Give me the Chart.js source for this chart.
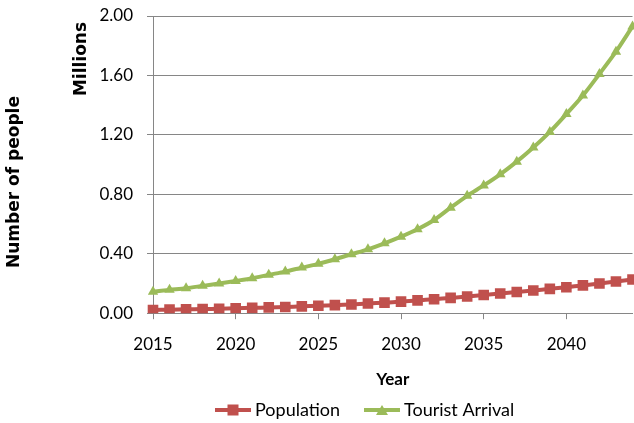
<!DOCTYPE html>
<html>
<head>
<meta charset="utf-8">
<script src="https://cdn.jsdelivr.net/npm/chart.js@4.4.1/dist/chart.umd.min.js"></script>
<style>
  html, body { margin: 0; padding: 0; background: #fff; overflow: hidden; }
  #wrap { width: 640px; height: 423px; }
</style>
</head>
<body>
<div id="wrap"><canvas id="chart"></canvas></div>
<script>
var years = [2015, 2016, 2017, 2018, 2019, 2020, 2021, 2022, 2023, 2024,
    2025, 2026, 2027, 2028, 2029, 2030, 2031, 2032, 2033, 2034,
    2035, 2036, 2037, 2038, 2039, 2040, 2041, 2042, 2043, 2044];

var population = [0.022, 0.024, 0.026, 0.028, 0.030, 0.033, 0.036, 0.039, 0.042, 0.046,
    0.050, 0.054, 0.059, 0.065, 0.071, 0.078, 0.086, 0.094, 0.103, 0.112,
    0.122, 0.133, 0.143, 0.153, 0.164, 0.175, 0.187, 0.200, 0.213, 0.227];

var touristArrival = [0.145, 0.157, 0.168, 0.184, 0.200, 0.217, 0.235, 0.258, 0.280, 0.307,
    0.332, 0.363, 0.397, 0.430, 0.470, 0.515, 0.565, 0.627, 0.710, 0.790,
    0.860, 0.935, 1.020, 1.115, 1.220, 1.340, 1.465, 1.610, 1.760, 1.930];

var seriesNames = ['Population', 'Tourist Arrival'];

var colors = {
    red: '#C0504D',
    green: '#9BBB59',
    grid: '#868686',
    text: '#000000'
};

var tickFont = { family: 'Lato, "Open Sans", sans-serif', size: 17 };
var sideTitleFont = 'bold 17px "DejaVu Sans", Verdana, sans-serif';

// rotated y titles: "Number of people" and the "Millions" unit
var sideTitles = {
    id: 'sideTitles',
    afterDraw: function (chart) {
        var ctx = chart.ctx;
        var titles = [
            { x: 15, y: 182, text: 'Number of people' },
            { x: 82, y: 59, text: 'Millions' }
        ];
        ctx.save();
        ctx.font = sideTitleFont;
        ctx.fillStyle = colors.text;
        ctx.textAlign = 'center';
        ctx.textBaseline = 'middle';
        titles.forEach(function (t) {
            ctx.save();
            ctx.translate(t.x, t.y);
            ctx.rotate(-Math.PI / 2);
            ctx.fillText(t.text, 0, 0);
            ctx.restore();
        });
        ctx.restore();
    }
};

// Excel style legend: line with marker, then the name
var lineLegend = {
    id: 'lineLegend',
    afterDraw: function (chart) {
        var ctx = chart.ctx;
        var y = 410;
        var items = [
            { x: 215, color: colors.red, shape: 'rect', text: seriesNames[0] },
            { x: 364, color: colors.green, shape: 'triangle', text: seriesNames[1] }
        ];
        ctx.save();
        items.forEach(function (it) {
            ctx.strokeStyle = it.color;
            ctx.fillStyle = it.color;
            ctx.lineWidth = 4;
            ctx.beginPath();
            ctx.moveTo(it.x, y);
            ctx.lineTo(it.x + 36, y);
            ctx.stroke();
            var cx = it.x + 18;
            if (it.shape === 'rect') {
                ctx.fillRect(cx - 5.5, y - 5.5, 11, 11);
            } else {
                ctx.beginPath();
                ctx.moveTo(cx, y - 5);
                ctx.lineTo(cx + 6, y + 5);
                ctx.lineTo(cx - 6, y + 5);
                ctx.closePath();
                ctx.fill();
            }
            ctx.fillStyle = colors.text;
            ctx.font = '18px Lato, "Open Sans", sans-serif';
            ctx.textAlign = 'left';
            ctx.textBaseline = 'middle';
            ctx.fillText(it.text, it.x + 40, y);
        });
        ctx.restore();
    }
};

var config = {
    type: 'line',
    data: {
        labels: years,
        datasets: [{
            label: seriesNames[0],
            data: population,
            borderColor: colors.red,
            backgroundColor: colors.red,
            borderWidth: 4,
            pointStyle: 'rect',
            pointRadius: 7.5,
            pointBorderWidth: 0,
            tension: 0.3
        }, {
            label: seriesNames[1],
            data: touristArrival,
            borderColor: colors.green,
            backgroundColor: colors.green,
            borderWidth: 4,
            pointStyle: 'triangle',
            pointRadius: 6,
            pointBorderWidth: 0,
            tension: 0.3
        }]
    },
    options: {
        responsive: true,
        maintainAspectRatio: false,
        animation: false,
        layout: {
            padding: { top: 0, right: 4, bottom: 33, left: 0 }
        },
        plugins: {
            legend: { display: false },
            tooltip: { enabled: false }
        },
        scales: {
            x: {
                type: 'category',
                offset: false,
                border: { color: colors.grid, width: 1 },
                grid: {
                    drawOnChartArea: false,
                    drawTicks: true,
                    tickLength: 6,
                    color: colors.grid
                },
                ticks: {
                    autoSkip: false,
                    maxRotation: 0,
                    padding: 15,
                    color: colors.text,
                    font: tickFont,
                    callback: function (value, index) {
                        var yr = years[index];
                        return yr % 5 === 0 && yr < 2044 ? String(yr) : null;
                    }
                },
                title: {
                    display: true,
                    text: 'Year',
                    color: colors.text,
                    font: { family: 'Lato, "Open Sans", sans-serif', size: 17, weight: 'bold' },
                    padding: { top: 0, bottom: 0 }
                },
                afterFit: function (scale) {
                    scale.paddingRight = 0;
                }
            },
            y: {
                min: 0,
                max: 2,
                border: { color: colors.grid, width: 1 },
                grid: {
                    color: colors.grid,
                    tickLength: 6
                },
                ticks: {
                    stepSize: 0.4,
                    padding: 14,
                    color: colors.text,
                    font: tickFont,
                    callback: function (value) {
                        return value.toFixed(2);
                    }
                },
                afterFit: function (scale) {
                    scale.width = 153;
                    scale.paddingTop = 16;
                }
            }
        }
    },
    plugins: [sideTitles, lineLegend]
};

new Chart(document.getElementById('chart'), config);
</script>
</body>
</html>
